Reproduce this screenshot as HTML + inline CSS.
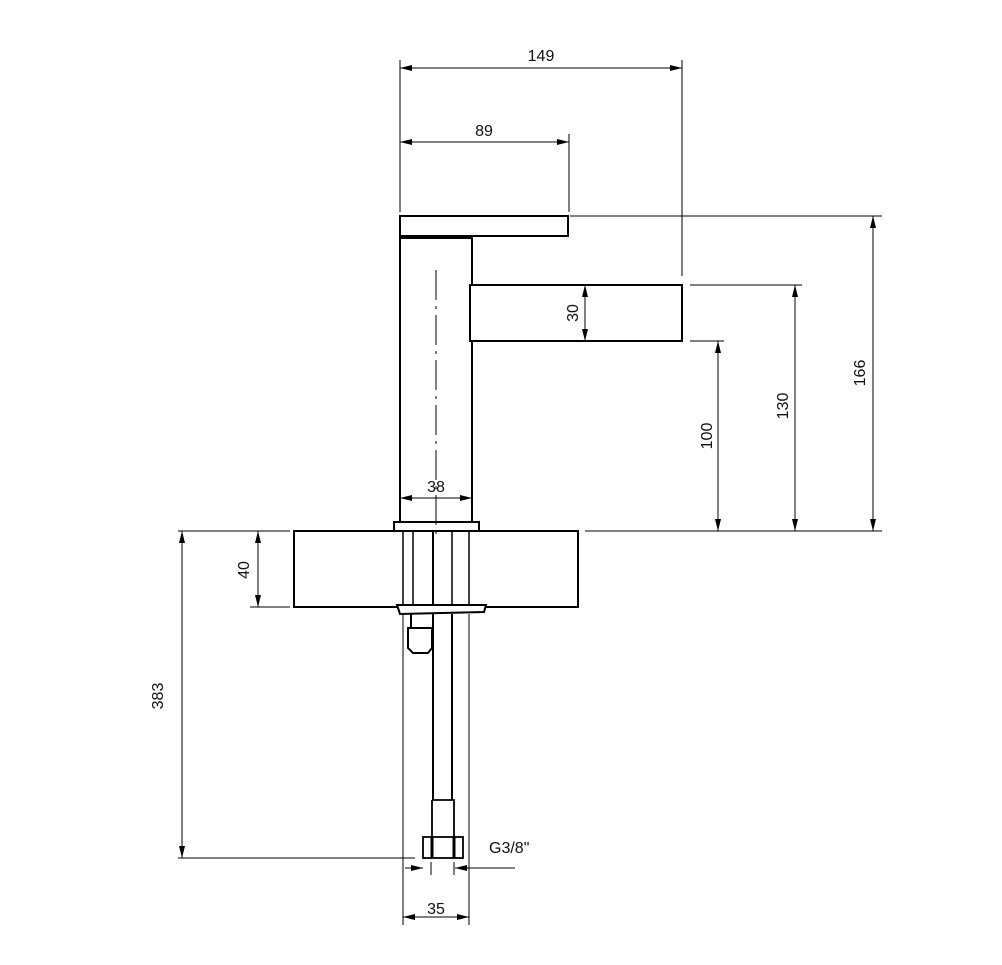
<!DOCTYPE html>
<html><head><meta charset="utf-8"><style>
html,body{margin:0;padding:0;background:#fff;}
svg{display:block;}
text{font-family:"Liberation Sans",Arial,sans-serif;font-size:16px;fill:#111;}
</style></head><body>
<svg width="1002" height="965" viewBox="0 0 1002 965" xmlns="http://www.w3.org/2000/svg">
<defs>
<marker id="a" viewBox="0 0 12 6" refX="12" refY="3" markerWidth="12" markerHeight="6" orient="auto-start-reverse" markerUnits="userSpaceOnUse"><path d="M0,0 L12,3 L0,6 z" fill="#000"/></marker>
</defs>
<g stroke="#000" fill="none">
<g stroke-width="2">
<rect x="400" y="216" width="168" height="20"/>
<path d="M400,236 L400,523 M472,236 L472,285 M472,341 L472,523 M400,238 L472,238"/>
<rect x="470" y="285" width="212" height="56"/>
<rect x="394" y="522" width="85" height="9"/>
<rect x="294" y="531" width="284" height="76"/>
<path d="M397,605 L486,605 L484,612 L400,614 Z" fill="#fff"/>
<line x1="403" y1="531" x2="403" y2="605" stroke-width="1.5"/>
<line x1="413" y1="531" x2="413" y2="605" stroke-width="1.5"/>
<line x1="433" y1="531" x2="433" y2="605"/>
<line x1="452" y1="531" x2="452" y2="605" stroke-width="1.5"/>
<line x1="469" y1="531" x2="469" y2="605" stroke-width="1.5"/>
<line x1="433" y1="614" x2="433" y2="800"/>
<line x1="452" y1="614" x2="452" y2="800"/>
<path d="M411,614 L411,628 M408,628 L432,628 L432,648 L428,653 L413,653 L408,648 Z"/>
<path d="M432,800 L454,800 L454,837 M432,800 L432,837" stroke-width="1.8"/>
<rect x="423" y="837" width="40" height="21" stroke-width="1.8"/>
<path d="M432,837 L432,858 M454,837 L454,858" stroke-width="3"/>
</g>
<g stroke-width="1">
<line x1="400" y1="60" x2="400" y2="212"/>
<line x1="682" y1="60" x2="682" y2="276"/>
<line x1="569" y1="134" x2="569" y2="212"/>
<line x1="570" y1="216" x2="882" y2="216"/>
<line x1="690" y1="285" x2="802" y2="285"/>
<line x1="690" y1="341" x2="724" y2="341"/>
<line x1="585" y1="531" x2="882" y2="531"/>
<line x1="178" y1="531" x2="290" y2="531"/>
<line x1="250" y1="607" x2="290" y2="607"/>
<line x1="178" y1="858" x2="415" y2="858"/>
<line x1="403" y1="614" x2="403" y2="925"/>
<line x1="469" y1="614" x2="469" y2="925"/>
<line x1="400" y1="68" x2="682" y2="68" marker-start="url(#a)" marker-end="url(#a)"/>
<line x1="400" y1="142" x2="569" y2="142" marker-start="url(#a)" marker-end="url(#a)"/>
<line x1="400" y1="498" x2="472" y2="498" marker-start="url(#a)" marker-end="url(#a)"/>
<line x1="585" y1="285" x2="585" y2="341" marker-start="url(#a)" marker-end="url(#a)"/>
<line x1="718" y1="341" x2="718" y2="531" marker-start="url(#a)" marker-end="url(#a)"/>
<line x1="795" y1="285" x2="795" y2="531" marker-start="url(#a)" marker-end="url(#a)"/>
<line x1="873" y1="216" x2="873" y2="531" marker-start="url(#a)" marker-end="url(#a)"/>
<line x1="258" y1="531" x2="258" y2="607" marker-start="url(#a)" marker-end="url(#a)"/>
<line x1="182" y1="531" x2="182" y2="858" marker-start="url(#a)" marker-end="url(#a)"/>
<line x1="403" y1="917" x2="469" y2="917" marker-start="url(#a)" marker-end="url(#a)"/>
<line x1="405" y1="868" x2="423" y2="868" marker-end="url(#a)"/>
<line x1="515" y1="868" x2="455" y2="868" marker-end="url(#a)"/>
<line x1="431" y1="862" x2="431" y2="875"/>
<line x1="454" y1="862" x2="454" y2="875"/>
<line x1="436" y1="270" x2="436" y2="535" stroke-dasharray="30,6,3,6"/>
</g>
</g>
<g>
<text x="541" y="61" text-anchor="middle">149</text>
<text x="484" y="136" text-anchor="middle">89</text>
<text x="436" y="492" text-anchor="middle">38</text>
<text x="436" y="914" text-anchor="middle">35</text>
<text x="489" y="853">G3/8"</text>
<text transform="translate(578,313) rotate(-90)" text-anchor="middle">30</text>
<text transform="translate(712,436) rotate(-90)" text-anchor="middle">100</text>
<text transform="translate(788,406) rotate(-90)" text-anchor="middle">130</text>
<text transform="translate(865,373) rotate(-90)" text-anchor="middle">166</text>
<text transform="translate(249,570) rotate(-90)" text-anchor="middle">40</text>
<text transform="translate(163,696) rotate(-90)" text-anchor="middle">383</text>
</g>
</svg>
</body></html>
